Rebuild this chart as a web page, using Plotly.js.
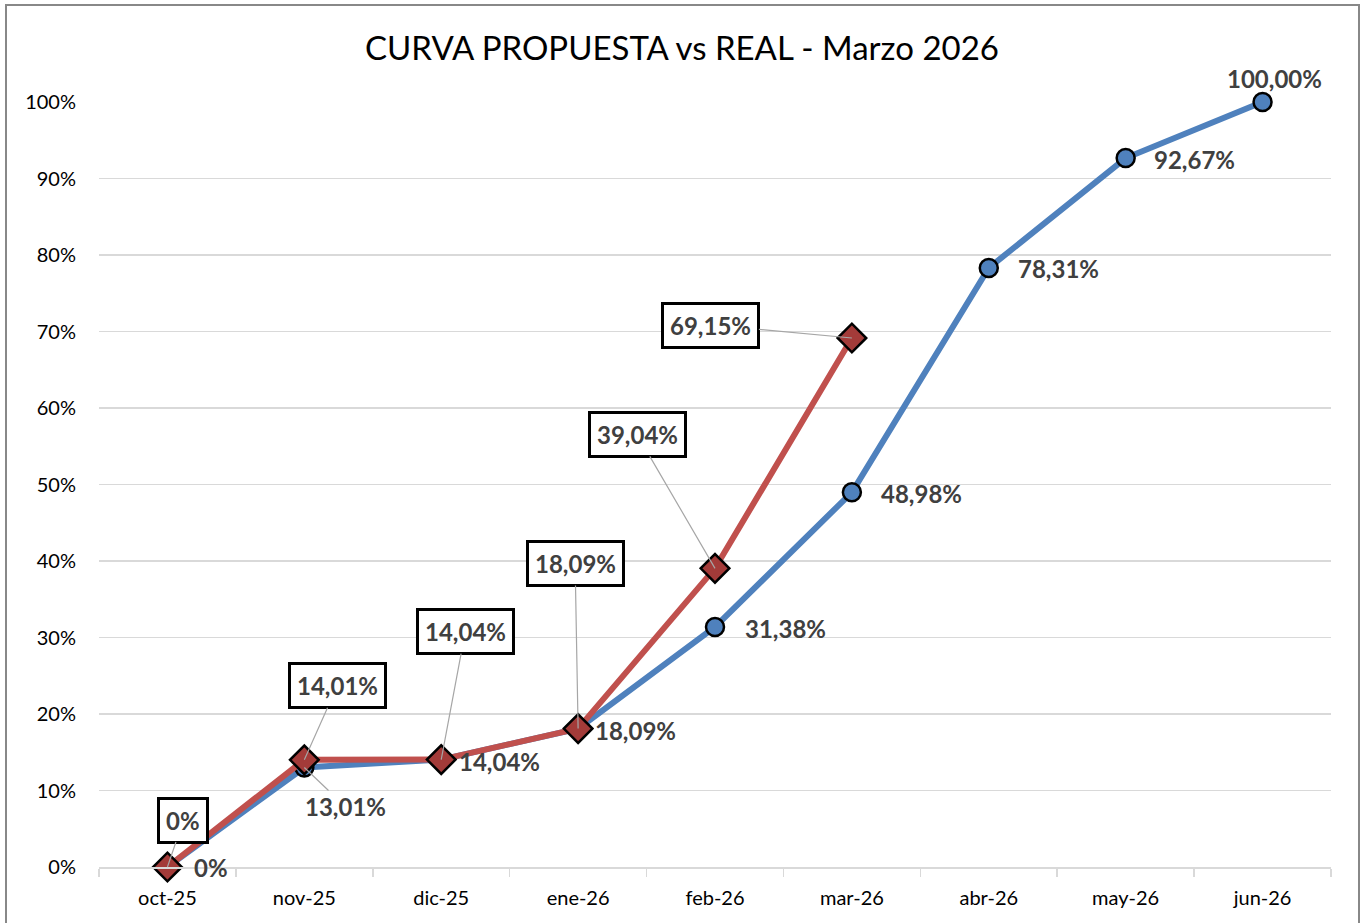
<!DOCTYPE html>
<html>
<head>
<meta charset="utf-8">
<script src="https://cdn.plot.ly/plotly-3.0.1.min.js"></script>
<style>
html,body{margin:0;padding:0;background:#fff;}
#wrap{position:relative;width:1364px;height:923px;overflow:hidden;}
#chart{position:absolute;left:0;top:0;width:1364px;height:923px;}
#frame{position:absolute;left:5px;top:4px;width:1351px;height:940px;border:2px solid #888;pointer-events:none;}
</style>
</head>
<body>
<div id="wrap"><div id="chart"></div><div id="frame"></div></div>
<script>
const months = ["oct-25","nov-25","dic-25","ene-26","feb-26","mar-26","abr-26","may-26","jun-26"];
const propuesta = [0, 13.01, 14.04, 18.09, 31.38, 48.98, 78.31, 92.67, 100.00];
const real = [0, 14.01, 14.04, 18.09, 39.04, 69.15];
const yTicks = [0,10,20,30,40,50,60,70,80,90,100];

// label offsets (pixels) for each point
const propOffsets = [[44,0],[41,39],[58,2],[57,2],[70,2],[70,1],[70,1],[69,1],[12,-24]];
const realOffsets = [[16,-47],[33,-74],[24,-128],[-3,-165],[-78,-134],[-141,-13]];

function fmt(v){ return v===0 ? "0%" : v.toFixed(2).replace('.',',')+'%'; }

const FONT = "Lato, 'Open Sans', sans-serif";

const traces = [
  {
    x: months, y: propuesta.map(v=>v/100), type:'scatter', mode:'lines+markers', name:'Propuesta',
    line:{color:'#4f81bd', width:6},
    marker:{symbol:'circle', size:18, color:'#4f81bd', line:{color:'#000', width:2.5}},
    cliponaxis:false, hoverinfo:'skip'
  },
  {
    x: months.slice(0, real.length), y: real.map(v=>v/100), type:'scatter', mode:'lines+markers', name:'Real',
    line:{color:'#c0504d', width:6},
    marker:{symbol:'diamond', size:22, color:'#a33b39', line:{color:'#000', width:2.5}},
    cliponaxis:false, hoverinfo:'skip'
  }
];

const annotations = [];
propuesta.forEach((v,i)=>{
  const o = propOffsets[i];
  const withArrow = (i===1);
  annotations.push({
    x: months[i], y: v/100, xref:'x', yref:'y',
    text: '<b>'+fmt(v)+'</b>', showarrow: withArrow,
    ax: o[0], ay: o[1],
    arrowcolor:'#a6a6a6', arrowwidth:1.2, arrowhead:0, standoff:0,
    xshift: withArrow ? 0 : o[0], yshift: withArrow ? 0 : -o[1],
    font:{family:FONT, size:24, color:'#404040'}
  });
});
real.forEach((v,i)=>{
  const o = realOffsets[i];
  annotations.push({
    x: months[i], y: v/100, xref:'x', yref:'y',
    text: '<b>'+fmt(v)+'</b>', showarrow:true,
    ax: o[0], ay: o[1],
    arrowcolor:'#a6a6a6', arrowwidth:1.2, arrowhead:0, standoff:0,
    bgcolor:'#ffffff', bordercolor:'#000000', borderwidth:3, borderpad:6,
    font:{family:FONT, size:24, color:'#404040'}
  });
});

const layout = {
  width:1364, height:923,
  margin:{l:99, r:33, t:102, b:56},
  paper_bgcolor:'#ffffff', plot_bgcolor:'#ffffff',
  showlegend:false,
  title:{text:'CURVA PROPUESTA vs REAL - Marzo 2026', x:0.5, xanchor:'center', y:0.948, yanchor:'middle',
         font:{family:FONT, size:33, color:'#000'}},
  xaxis:{
    type:'category', range:[-0.5, 8.5], categoryarray: months,
    showgrid:false, showline:true, linecolor:'#d9d9d9', linewidth:1.5,
    ticks:'outside', tickson:'boundaries', ticklen:8, tickcolor:'#d9d9d9', tickwidth:1.5,
    ticklabelstandoff:12,
    tickfont:{family:FONT, size:20, color:'#000'}, zeroline:false, fixedrange:true
  },
  yaxis:{
    range:[0,1], tickvals: yTicks.map(v=>v/100), ticktext: yTicks.map(v=>v+'%'),
    showgrid:true, gridcolor:'#d9d9d9', gridwidth:1.5, showline:false, zeroline:false,
    ticks:'', ticklabelstandoff:22,
    tickfont:{family:FONT, size:20, color:'#000'}, fixedrange:true
  },
  annotations: annotations
};

Plotly.newPlot('chart', traces, layout, {displayModeBar:false, staticPlot:true});
</script>
</body>
</html>
